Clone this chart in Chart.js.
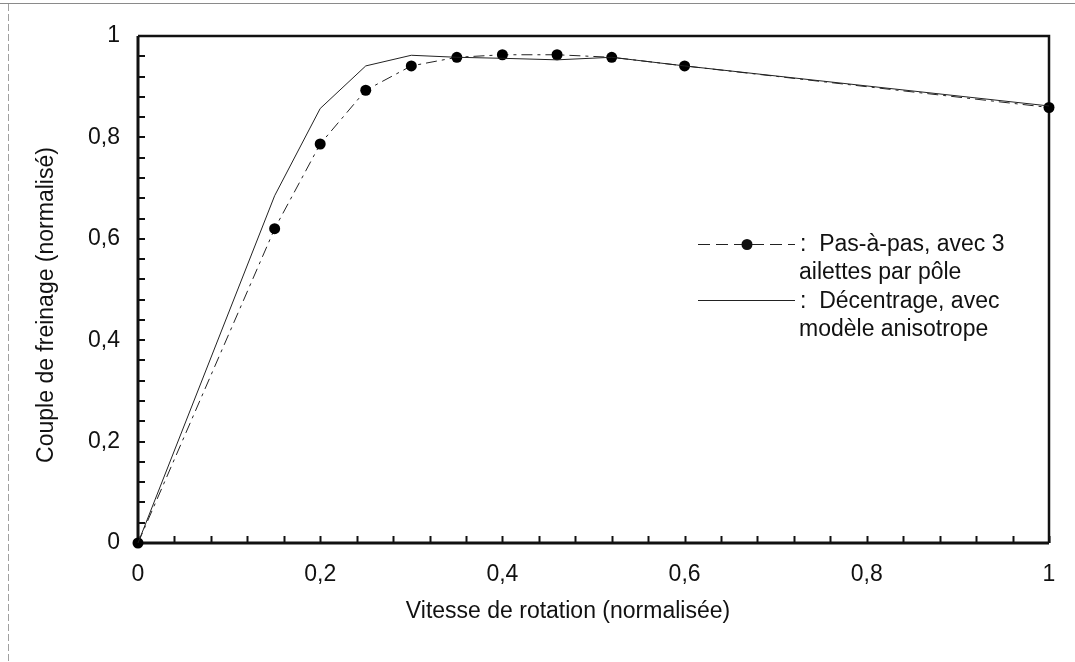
<!DOCTYPE html>
<html>
<head>
<meta charset="utf-8">
<script src="https://cdn.jsdelivr.net/npm/chart.js@4.4.0/dist/chart.umd.min.js"></script>
<style>
html,body{margin:0;padding:0;background:#fff;}
#wrap{width:1075px;height:662px;position:relative;}
</style>
</head>
<body>
<div id="wrap"><canvas id="c" width="1075" height="662"></canvas></div>
<script>
// ---- data ----
const pasX = [0, 0.15, 0.2, 0.25, 0.3, 0.35, 0.4, 0.46, 0.52, 0.6, 1];
const pasY = [0, 0.62, 0.787, 0.893, 0.941, 0.958, 0.963, 0.963, 0.958, 0.941, 0.859];
const decX = [0, 0.15, 0.2, 0.25, 0.3, 0.35, 0.4, 0.46, 0.52, 0.6, 1];
const decY = [0, 0.685, 0.857, 0.941, 0.962, 0.958, 0.956, 0.953, 0.958, 0.941, 0.862];
const pasLegend = [':  Pas-à-pas, avec 3', 'ailettes par pôle'];
const decLegend = [':  Décentrage, avec', 'modèle anisotrope'];
const xTitle = 'Vitesse de rotation (normalisée)';
const yTitle = 'Couple de freinage (normalisé)';
const minorStep = 0.04;
const labelStep = 0.2;

const FONT = '"Liberation Sans", Arial, Helvetica, sans-serif';
const INK = '#111';
const DASH = [11, 5, 3, 5];

function toPts(xs, ys){ return xs.map((x,i)=>({x:x, y:ys[i]})); }
function fmt(v){
  const k = v / labelStep;
  if (Math.abs(k - Math.round(k)) > 1e-6) return '';
  const r = Math.round(v * 10) / 10;
  return String(r).replace('.', ',');
}

const decorPlugin = {
  id: 'decor',
  beforeDraw(chart){
    const ctx = chart.ctx;
    ctx.save();
    ctx.strokeStyle = '#8a8a8a';
    ctx.lineWidth = 1.2;
    ctx.beginPath(); ctx.moveTo(0, 3.5); ctx.lineTo(1075, 3.5); ctx.stroke();
    ctx.setLineDash([7, 3]);
    ctx.strokeStyle = '#a0a0a0';
    ctx.lineWidth = 1;
    ctx.beginPath(); ctx.moveTo(8.5, 4); ctx.lineTo(8.5, 662); ctx.stroke();
    ctx.restore();
  },
  beforeDatasetsDraw(chart){
    const ctx = chart.ctx, a = chart.chartArea;
    const xs = chart.scales.x, ys = chart.scales.y;
    ctx.save();
    ctx.strokeStyle = INK;
    ctx.lineWidth = 2;
    xs.ticks.forEach(t => {
      const px = Math.round(xs.getPixelForValue(t.value)) + 0.5;
      ctx.beginPath(); ctx.moveTo(px, a.bottom); ctx.lineTo(px, a.bottom - 7); ctx.stroke();
    });
    ys.ticks.forEach(t => {
      const py = Math.round(ys.getPixelForValue(t.value));
      ctx.beginPath(); ctx.moveTo(a.left, py); ctx.lineTo(a.left + 7, py); ctx.stroke();
    });
    ctx.lineWidth = 2.5;
    ctx.beginPath();
    ctx.moveTo(a.left, a.top); ctx.lineTo(a.right, a.top); ctx.lineTo(a.right, a.bottom);
    ctx.stroke();
    ctx.lineWidth = 3;
    ctx.beginPath();
    ctx.moveTo(a.left, a.top); ctx.lineTo(a.left, a.bottom); ctx.lineTo(a.right, a.bottom);
    ctx.stroke();
    ctx.restore();
  },
  afterDraw(chart){
    const ctx = chart.ctx;
    ctx.save();
    ctx.fillStyle = INK;
    ctx.font = '23px ' + FONT;
    ctx.textBaseline = 'middle';
    ctx.textAlign = 'center';
    ctx.fillText(xTitle, 568, 612);
    ctx.save();
    ctx.translate(47, 305);
    ctx.rotate(-Math.PI / 2);
    ctx.fillText(yTitle, 0, 0);
    ctx.restore();
    ctx.textAlign = 'left';
    ctx.strokeStyle = '#222';
    ctx.lineWidth = 1;
    ctx.setLineDash([12, 6]);
    ctx.beginPath(); ctx.moveTo(698, 244.5); ctx.lineTo(795, 244.5); ctx.stroke();
    ctx.setLineDash([]);
    ctx.beginPath(); ctx.arc(747, 244.5, 5.5, 0, Math.PI * 2); ctx.fill();
    ctx.beginPath(); ctx.moveTo(698, 300.5); ctx.lineTo(795, 300.5); ctx.stroke();
    ctx.fillText(pasLegend[0], 800, 245);
    ctx.fillText(pasLegend[1], 799, 273);
    ctx.fillText(decLegend[0], 800, 302);
    ctx.fillText(decLegend[1], 799, 330);
    ctx.restore();
  }
};

new Chart(document.getElementById('c'), {
  type: 'line',
  data: {
    datasets: [
      {
        label: 'Décentrage, avec modèle anisotrope',
        data: toPts(decX, decY),
        borderColor: '#222',
        borderWidth: 1,
        pointRadius: 0,
        tension: 0,
        clip: false
      },
      {
        label: 'Pas-à-pas, avec 3 ailettes par pôle',
        data: toPts(pasX, pasY),
        borderColor: '#222',
        borderWidth: 1,
        borderDash: DASH,
        pointRadius: 5.5,
        pointBackgroundColor: '#000',
        pointBorderWidth: 0,
        tension: 0,
        clip: false
      }
    ]
  },
  options: {
    responsive: false,
    animation: false,
    devicePixelRatio: 1,
    layout: { padding: { left: 0, top: 36, right: 26, bottom: 0 } },
    plugins: { legend: { display: false }, tooltip: { enabled: false } },
    scales: {
      x: {
        type: 'linear', min: 0, max: 1, position: 'bottom',
        afterFit: s => { s.height = 119; },
        border: { display: false },
        grid: { display: false, drawTicks: false },
        ticks: {
          stepSize: minorStep, autoSkip: false, maxRotation: 0, padding: 18,
          color: INK, font: { family: FONT, size: 23 },
          callback: v => fmt(v)
        }
      },
      y: {
        type: 'linear', min: 0, max: 1,
        afterFit: s => { s.width = 138; },
        border: { display: false },
        grid: { display: false, drawTicks: false },
        ticks: {
          stepSize: minorStep, autoSkip: false, padding: 18,
          color: INK, font: { family: FONT, size: 23 },
          callback: v => fmt(v)
        }
      }
    }
  },
  plugins: [decorPlugin]
});
</script>
</body>
</html>
